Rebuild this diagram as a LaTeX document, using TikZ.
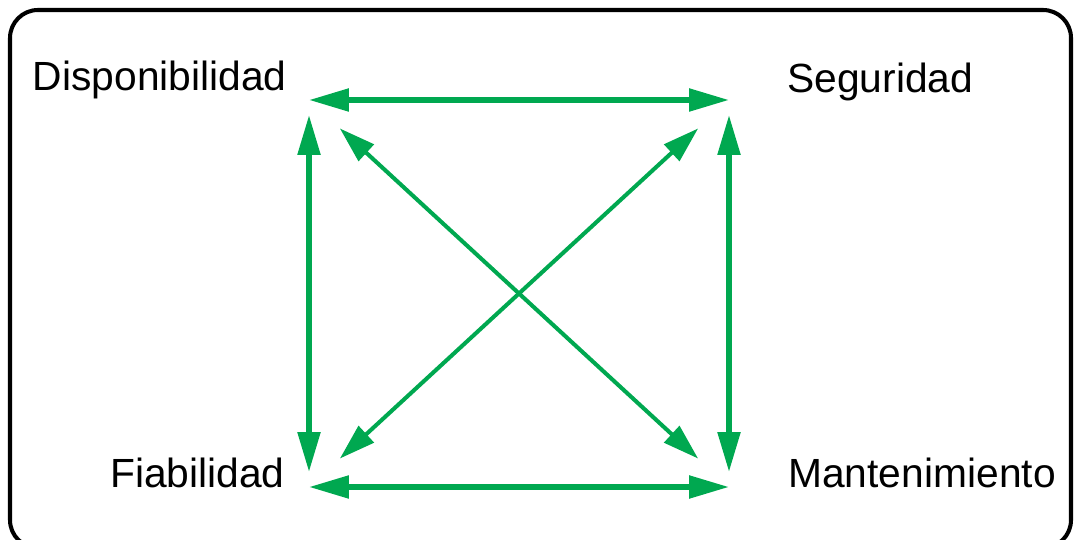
\documentclass[tikz,border=0pt]{standalone}
\usepackage{fontspec}
\setmainfont{Liberation Sans}
\usetikzlibrary{arrows.meta}
\definecolor{verde}{RGB}{0,168,80}

\begin{document}
\begin{tikzpicture}[x=0.02cm, y=-0.02cm,
    flecha/.style={verde, line width=3.1pt, {Triangle[length=0.8cm,width=0.44cm]}-{Triangle[length=0.8cm,width=0.44cm]}},
    diagonal/.style={verde, line width=2.3pt, {Triangle[length=0.72cm,width=0.44cm]}-{Triangle[length=0.72cm,width=0.44cm]}, shorten <=0.84cm, shorten >=0.84cm},
    etiqueta/.style={font=\fontsize{23.2}{28}\selectfont, inner sep=0pt}]
    \useasboundingbox (0,0) rectangle (1075,540);
    \clip (0,0) rectangle (1075,540);
    \draw [line width=2.3pt, rounded corners=0.56cm] (10,10) rectangle (1071,548);
    % esquinas del cuadro
    \coordinate (dis) at (309,100);
    \coordinate (seg) at (729,100);
    \coordinate (fia) at (309,487);
    \coordinate (man) at (729,487);
    \node [etiqueta, anchor=base east] (tdis) at (287,91) {Disponibilidad};
    \node [etiqueta, anchor=base west] (tseg) at (787,93) {Seguridad};
    \node [etiqueta, anchor=base east] (tfia) at (285,487) {Fiabilidad};
    \node [etiqueta, anchor=base west] (tman) at (788,487) {Mantenimiento};
    \draw [flecha] (dis)--(seg);
    \draw [flecha] (fia)--(man);
    \draw [flecha, shorten <=0.3cm, shorten >=0.3cm] (dis)--(fia);
    \draw [flecha, shorten <=0.3cm, shorten >=0.3cm] (seg)--(man);
    \draw [diagonal] (dis)--(man);
    \draw [diagonal] (seg)--(fia);
\end{tikzpicture}
\end{document}
